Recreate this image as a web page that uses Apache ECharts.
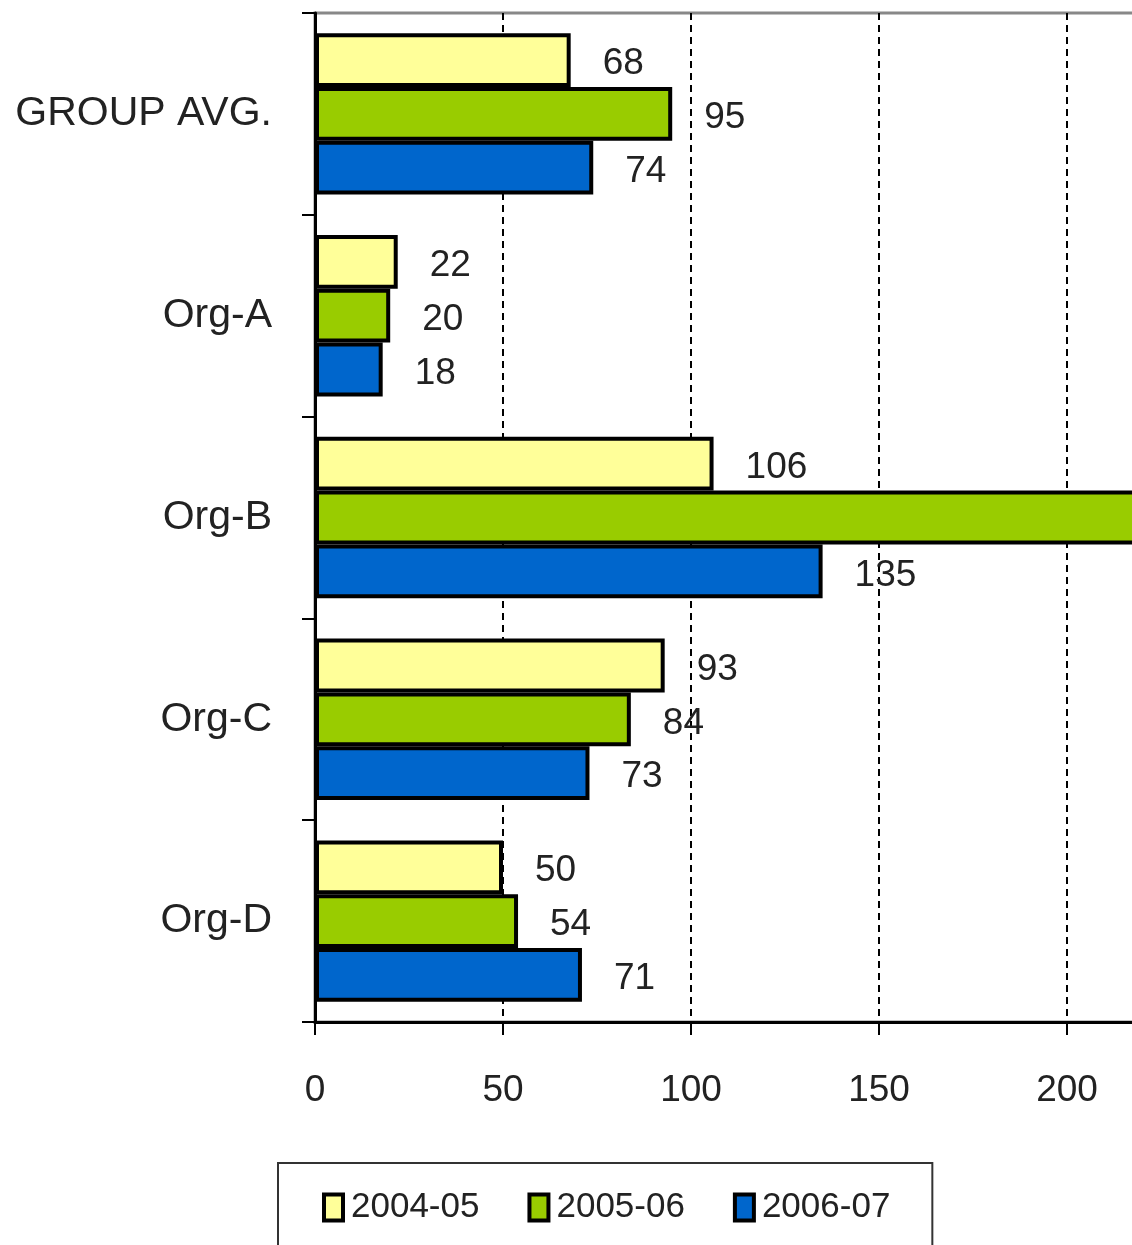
<!DOCTYPE html>
<html>
<head>
<meta charset="utf-8">
<script src="https://cdn.jsdelivr.net/npm/echarts@6/dist/echarts.min.js"></script>
<style>
    html, body { margin: 0; padding: 0; background: #fff; overflow: hidden; }
    /* the plot runs past the right edge of the picture, so the canvas is wider than the window */
    #chart { width: 1262px; height: 1245px; }
</style>
</head>
<body>
<div id="chart"></div>
<script>
    // categories, top to bottom
    var categories = ['GROUP AVG.', 'Org-A', 'Org-B', 'Org-C', 'Org-D'];
    var seriesNames = ['2004-05', '2005-06', '2006-07'];
    var colors = ['#FFFF99', '#99CC00', '#0066CC'];
    var v2004 = [68, 22, 106, 93, 50];
    var v2005 = [95, 20, 240, 84, 54];   // Org-B runs off the picture, value estimated
    var v2006 = [74, 18, 135, 73, 71];
    var xTicks = [0, 50, 100, 150, 200, 250];

    var font = 'Liberation Sans, Arial, sans-serif';
    var values = [v2004, v2005, v2006];

    var chart = echarts.init(document.getElementById('chart'), null, { width: 1262, height: 1245 });

    var series = [];
    for (var i = 0; i < seriesNames.length; i++) {
        series.push({
            name: seriesNames[i],
            type: 'bar',
            data: values[i],
            barGap: '0%',
            barCategoryGap: '20%',
            itemStyle: { color: colors[i], borderColor: '#000', borderWidth: 4 },
            label: {
                show: true,
                position: 'right',
                distance: 32,
                offset: [0, 4],
                color: '#222',
                fontSize: 37,
                fontFamily: font
            },
            emphasis: { disabled: true }
        });
    }

    chart.setOption({
        animation: false,
        backgroundColor: '#fff',
        color: colors,
        grid: {
            left: 315, top: 13, bottom: 223, right: 7,
            outerBoundsMode: 'none',
            show: true, borderColor: '#888', borderWidth: 3
        },
        legend: {
            data: seriesNames,
            left: 278, top: 1163,
            orient: 'horizontal',
            borderColor: '#333', borderWidth: 2,
            padding: [27, 42, 60, 44],
            itemWidth: 19, itemHeight: 26,
            itemGap: 48,
            icon: 'rect',
            itemStyle: { borderColor: '#000', borderWidth: 4 },
            textStyle: { fontSize: 35, color: '#222', fontFamily: font, padding: [0, 0, 0, 3] }
        },
        xAxis: {
            type: 'value',
            min: xTicks[0], max: xTicks[xTicks.length - 1], interval: 50,
            axisLine: { show: true, lineStyle: { color: '#000', width: 3 } },
            axisTick: { show: true, length: 13, lineStyle: { color: '#000', width: 2 } },
            axisLabel: { fontSize: 37, color: '#222', fontFamily: font, margin: 50 },
            splitLine: { show: true, lineStyle: { color: '#000', width: 2, type: [7, 5] } }
        },
        yAxis: {
            type: 'category',
            data: categories,
            inverse: true,
            axisLine: { show: true, lineStyle: { color: '#000', width: 3 } },
            axisTick: { show: true, length: 13, lineStyle: { color: '#000', width: 2 } },
            axisLabel: { fontSize: 41, color: '#222', fontFamily: font, margin: 43, padding: [8, 0, 0, 0] },
            splitLine: { show: false }
        },
        series: series
    });
</script>
</body>
</html>
